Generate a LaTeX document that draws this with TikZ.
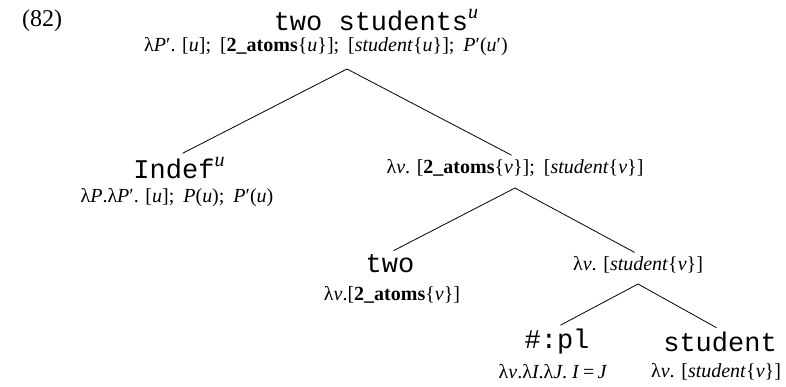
\documentclass[tikz,border=0pt]{standalone}
\usepackage{fontspec}
\setmainfont{Liberation Serif}
\setmonofont{Liberation Mono}
\usetikzlibrary{positioning}
\newcommand{\idx}[1]{\raisebox{0.8ex}{\fontsize{10}{12}\selectfont\rmfamily\itshape #1}}
\newcommand{\gp}{\hspace{0.45em}}

\begin{document}
\begin{tikzpicture}[x=0.5pt, y=-0.5pt,
    word/.style={font=\fontsize{13.5}{15}\selectfont\ttfamily, inner sep=1pt},
    sem/.style={font=\fontsize{10}{12}\selectfont, inner sep=1pt},
    branch/.style={line width=0.4pt, shorten >=2pt}
]
\useasboundingbox (0,0) rectangle (786,386);

% example number
\node[font=\fontsize{12}{14}\selectfont, inner sep=0pt] (num) at (42,21) {(82)};

% root
\node[word] (root) at (376,20) {two students\idx{u}};
\node[sem] (rootsem) at (326,47) {λ\textit{P}′. [\textit{u}];\gp[\textbf{2\_atoms}\{\textit{u}\}];\gp[\textit{student}\{\textit{u}\}];\gp\textit{P}′(\textit{u}′)};
\coordinate (rootfork) at (347,69);

% first level
\node[word] (indef) at (179,168) {Indef\idx{u}};
\node[sem] (indefsem) at (177,198) {λ\textit{P}.λ\textit{P}′. [\textit{u}];\gp\textit{P}(\textit{u});\gp\textit{P}′(\textit{u})};
\node[sem] (nbar) at (515,168) {λ\textit{v}. [\textbf{2\_atoms}\{\textit{v}\}];\gp[\textit{student}\{\textit{v}\}]};
\coordinate (nbarfork) at (515,188);

% second level
\node[word] (two) at (390,264) {two};
\node[sem] (twosem) at (392,295) {λ\textit{v}.[\textbf{2\_atoms}\{\textit{v}\}]};
\node[sem] (nom) at (638,265) {λ\textit{v}. [\textit{student}\{\textit{v}\}]};
\coordinate (nomfork) at (638,284);

% third level
\node[word] (pl) at (557,342) {\#:pl};
\node[sem] (plsem) at (553,372) {λ\textit{v}.λ\textit{I}.λ\textit{J}. \textit{I}\,=\,\textit{J}};
\node[word] (stud) at (720,342) {student};
\node[sem] (studsem) at (716,372) {λ\textit{v}. [\textit{student}\{\textit{v}\}]};

% branches
\draw[branch] (rootfork) -- (indef.north);
\draw[branch] (rootfork) -- (nbar.north);
\draw[branch] (nbarfork) -- (two.north);
\draw[branch] (nbarfork) -- (nom.north);
\draw[branch] (nomfork) -- (pl.north);
\draw[branch] (nomfork) -- (stud.north);

\end{tikzpicture}
\end{document}
